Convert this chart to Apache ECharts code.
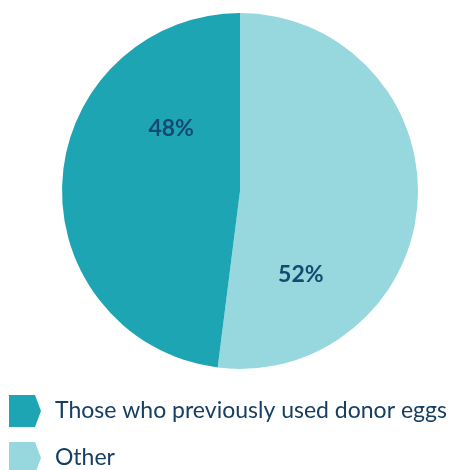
<!DOCTYPE html>
<html><head><meta charset="utf-8">
<script src="https://cdn.jsdelivr.net/npm/echarts@6/dist/echarts.min.js"></script>
<style>html,body{margin:0;padding:0;background:#fff;}#c{width:455px;height:470px;}</style>
</head><body><div id="c"></div>
<script>
var categories = ['Other', 'Those who previously used donor eggs'];
var values = [52, 48];
var legendOrder = ['Those who previously used donor eggs', 'Other'];
var colors = ['#96d8de', '#1ea5b4'];
var labelOffsets = [[-31, 78], [23, -57]];

var chart = echarts.init(document.getElementById('c'));
var data = categories.map(function (c, i) {
  return {
    name: c, value: values[i],
    itemStyle: { color: colors[i] },
    label: { offset: labelOffsets[i] }
  };
});
var legendTops = [390, 437];
var legends = legendOrder.map(function (name, i) {
  return {
    data: [name],
    orient: 'vertical',
    left: 4, top: legendTops[i],
    itemWidth: 32, itemHeight: 32,
    icon: 'path://M0,0 L26,0 L32,16 L26,32 L0,32 Z',
    selectedMode: false,
    textStyle: { fontFamily: 'Lato', fontSize: 23, color: '#173f63', padding: [0, 0, 0, 9] }
  };
});
chart.setOption({
  animation: false,
  legend: legends,
  series: [{
    type: 'pie',
    center: [240, 191],
    radius: [0, 178],
    startAngle: 90,
    clockwise: true,
    silent: true,
    label: {
      show: true, position: 'inside',
      formatter: '{c}%',
      fontFamily: 'Lato', fontWeight: 'bold', fontSize: 23, color: '#144a70'
    },
    labelLine: { show: false },
    data: data
  }]
});
</script></body></html>
